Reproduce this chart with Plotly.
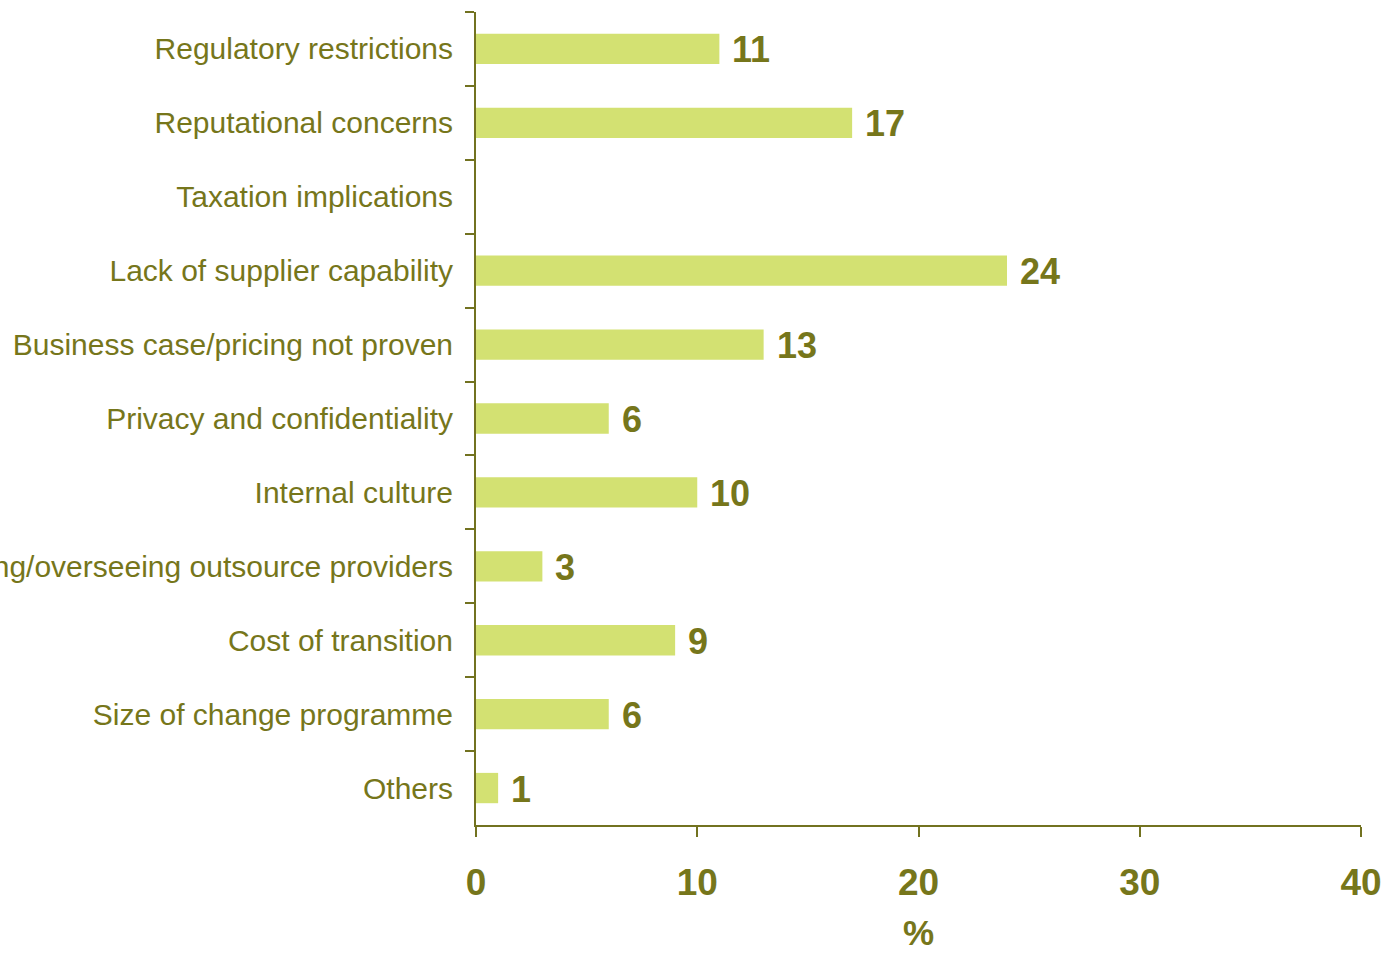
import plotly.graph_objects as go

categories = [
    "Regulatory restrictions",
    "Reputational concerns",
    "Taxation implications",
    "Lack of supplier capability",
    "Business case/pricing not proven",
    "Privacy and confidentiality",
    "Internal culture",
    "Managing/overseeing outsource providers",
    "Cost of transition",
    "Size of change programme",
    "Others",
]
values = [11, 17, None, 24, 13, 6, 10, 3, 9, 6, 1]
x_ticks = [0, 10, 20, 30, 40]
x_title = "%"

OLIVE = "#76761b"
AXIS = "#727220"
BAR = "#d3e172"
FONT = "Liberation Sans, Arial, sans-serif"

fig = go.Figure()
fig.add_trace(go.Bar(
    x=values, y=categories, orientation="h",
    marker=dict(color=BAR, line=dict(width=0)),
    width=0.41,
    hoverinfo="x+y",
))

for c, v in zip(categories, values):
    if v is None:
        continue
    fig.add_annotation(
        x=v, y=c, xref="x", yref="y", text=str(v),
        showarrow=False, xanchor="left", yanchor="middle", xshift=11, yshift=-1,
        font=dict(family=FONT, size=36, color=OLIVE, weight="bold"),
    )

# x-axis title placed below tick labels, kept inside the page
fig.add_annotation(
    x=0.5, y=-0.1585, xref="paper", yref="paper", text=x_title,
    showarrow=False, xanchor="center", yanchor="bottom",
    font=dict(family=FONT, size=35, color=OLIVE, weight="bold"),
)

fig.update_layout(
    width=1395, height=954,
    margin=dict(l=476, r=34, t=12, b=129, autoexpand=False),
    plot_bgcolor="white", paper_bgcolor="white",
    showlegend=False,
    font=dict(family=FONT, color=OLIVE),
)
fig.update_xaxes(
    range=[0, 40], tickvals=x_ticks, ticktext=[str(t) for t in x_ticks],
    showgrid=False, zeroline=False,
    showline=True, linecolor=AXIS, linewidth=2,
    ticks="outside", ticklen=10, tickwidth=2, tickcolor=AXIS,
    tickfont=dict(family=FONT, size=37, color=OLIVE, weight="bold"),
    ticklabelstandoff=14,
    automargin=False,
)
fig.update_yaxes(
    type="category", categoryorder="array", categoryarray=categories,
    autorange="reversed",
    tickson="boundaries",
    showgrid=False, zeroline=False,
    showline=True, linecolor=AXIS, linewidth=2,
    ticks="outside", ticklen=9, tickwidth=2, tickcolor=AXIS,
    tickfont=dict(family=FONT, size=30, color=OLIVE),
    ticklabelstandoff=15,
    automargin=False,
)

fig.write_html(
    "out.html",
    config={"displayModeBar": False},
    post_script="document.body.style.margin='0';document.body.style.padding='0';",
)
